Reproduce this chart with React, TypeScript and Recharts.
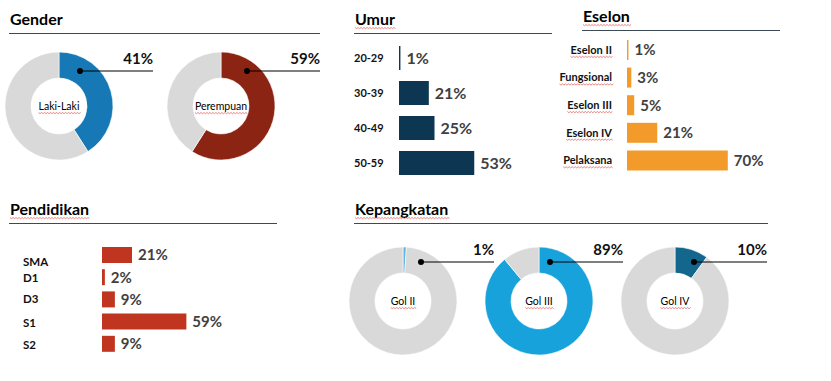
import React from "react";
import {
  PieChart,
  Pie,
  Cell,
  BarChart,
  Bar,
  XAxis,
  YAxis,
  LabelList,
} from "recharts";

const genderCategories = ["Laki-Laki", "Perempuan"];
const genderValues = [41, 59];

const umurCategories = ["20-29", "30-39", "40-49", "50-59"];
const umurValues = [1, 21, 25, 53];

const eselonCategories = ["Eselon II", "Fungsional", "Eselon III", "Eselon IV", "Pelaksana"];
const eselonValues = [1, 3, 5, 21, 70];

const pendidikanCategories = ["SMA", "D1", "D3", "S1", "S2"];
const pendidikanValues = [21, 2, 9, 59, 9];

const golCategories = ["Gol II", "Gol III", "Gol IV"];
const golValues = [1, 89, 10];

const FONT = "Lato, 'Open Sans', sans-serif";
const GREY = "#d9d9d9";
const LABEL = "#404040";
const RULE = "#3c4a57";
const NO_MARGIN = { top: 0, right: 0, bottom: 0, left: 0 };

const toRows = (cats: string[], vals: number[]) =>
  cats.map((name, i) => ({ name, value: vals[i] }));

// spell-check squiggle under some words, like in the original screenshot
let ctx: CanvasRenderingContext2D | null = null;
function textWidth(text: string, size: number, bold: boolean) {
  if (!ctx) ctx = document.createElement("canvas").getContext("2d");
  if (!ctx) return text.length * size * 0.5;
  ctx.font = `${bold ? "bold " : ""}${size}px Lato`;
  return ctx.measureText(text).width;
}

function Squiggle({ x, y, w }: { x: number; y: number; w: number }) {
  let d = `M${x},${y}`;
  for (let i = 0, px = x; px < x + w; i++) {
    px += 1.5;
    d += ` L${px},${y + (i % 2 === 0 ? 1.2 : 0)}`;
  }
  return <path d={d} fill="none" stroke="#e0504a" strokeWidth={0.7} />;
}

function WavyText({ x, y, text, size, bold, anchor = "start", fill = "#000" }: any) {
  const w = textWidth(text, size, bold);
  const x0 = anchor === "end" ? x - w : anchor === "middle" ? x - w / 2 : x;
  return (
    <g>
      <text
        x={x}
        y={y}
        textAnchor={anchor}
        fontFamily={FONT}
        fontWeight={bold ? "bold" : "normal"}
        fontSize={size}
        fill={fill}
      >
        {text}
      </text>
      <Squiggle x={x0} y={y + 2.5} w={w} />
    </g>
  );
}

type DonutProps = {
  name: string;
  value: number;
  color: string;
  left: number;
  top: number;
  dot: [number, number];
  lineLen: number;
};

const CX = 60;
const CY = 70;

function Donut({ name, value, color, left, top, dot, lineLen }: DonutProps) {
  const data = [
    { name, value },
    { name: "rest", value: 100 - value },
  ];
  const marker = (p: any) => {
    if (p.index !== 0) return null;
    const cx = CX;
    const cy = CY;
    const dx = cx + dot[0];
    const dy = cy + dot[1];
    const end = cx + lineLen;
    return (
      <g>
        <line x1={dx} y1={dy} x2={end} y2={dy} stroke="#000" strokeWidth={1.2} />
        <circle cx={dx} cy={dy} r={3} fill="#000" />
        <text
          x={end}
          y={dy - 7}
          textAnchor="end"
          fontFamily={FONT}
          fontWeight="bold"
          fontSize={15}
          fill="#111"
        >
          {`${p.value}%`}
        </text>
        <WavyText x={cx} y={cy + 4} text={name} size={10.5} anchor="middle" />
      </g>
    );
  };
  return (
    <div style={{ position: "absolute", left, top }}>
      <PieChart width={170} height={130} margin={NO_MARGIN}>
        <Pie
          data={data}
          dataKey="value"
          cx={CX}
          cy={CY}
          innerRadius={28}
          outerRadius={54}
          startAngle={90}
          endAngle={-270}
          stroke="#fff"
          strokeWidth={0.6}
          label={marker}
          labelLine={false}
          isAnimationActive={false}
        >
          <Cell fill={color} />
          <Cell fill={GREY} />
        </Pie>
      </PieChart>
    </div>
  );
}

type HBarProps = {
  cats: string[];
  vals: number[];
  color: string;
  left: number;
  top: number;
  height: number;
  axisW: number;
  plotW: number;
  barSize: number;
  tickX: number;
  anchor: "start" | "end";
  wavy?: boolean;
  tickDy?: number[];
  tickSize?: number;
  valueSize?: number;
};

function HBar({
  cats,
  vals,
  color,
  left,
  top,
  height,
  axisW,
  plotW,
  barSize,
  tickX,
  anchor,
  wavy,
  tickDy,
  tickSize = 11,
  valueSize = 15,
}: HBarProps) {
  const data = toRows(cats, vals);
  const tick = (p: any) => {
    const y = p.y + 4 + (tickDy ? tickDy[p.index] ?? 0 : 0);
    if (wavy)
      return <WavyText x={tickX} y={y} text={p.payload.value} size={tickSize} bold anchor={anchor} fill="#111" />;
    return (
      <text
        x={tickX}
        y={y}
        textAnchor={anchor}
        fontFamily={FONT}
        fontWeight="bold"
        fontSize={tickSize}
        fill="#111"
      >
        {p.payload.value}
      </text>
    );
  };
  return (
    <div style={{ position: "absolute", left, top }}>
      <BarChart
        width={axisW + plotW + 60}
        height={height}
        data={data}
        layout="vertical"
        margin={{ top: 0, right: 60, bottom: 0, left: 0 }}
      >
        <XAxis type="number" domain={[0, 100]} hide />
        <YAxis
          type="category"
          dataKey="name"
          width={axisW}
          axisLine={false}
          tickLine={false}
          tick={tick}
          interval={0}
        />
        <Bar dataKey="value" fill={color} barSize={barSize} isAnimationActive={false}>
          <LabelList
            dataKey="value"
            position="right"
            offset={6}
            formatter={(v: any) => `${v}%`}
            fill={LABEL}
            fontFamily={FONT}
            fontWeight="bold"
            fontSize={valueSize}
          />
        </Bar>
      </BarChart>
    </div>
  );
}

function Title({ x, y, text, lineY, lineEnd, wavy }: any) {
  return (
    <g>
      {wavy ? (
        <WavyText x={x} y={y} text={text} size={16} bold />
      ) : (
        <text x={x} y={y} fontFamily={FONT} fontWeight="bold" fontSize={16} fill="#000">
          {text}
        </text>
      )}
      <line x1={x - 1} y1={lineY} x2={lineEnd} y2={lineY} stroke={RULE} strokeWidth={1} />
    </g>
  );
}

export default function App() {
  return (
    <div
      style={{
        position: "absolute",
        left: 0,
        top: 0,
        width: 831,
        height: 381,
        background: "#fff",
        overflow: "hidden",
      }}
    >
      <svg width={831} height={381} style={{ position: "absolute", left: 0, top: 0 }}>
        <Title x={10} y={25} text="Gender" lineY={33.5} lineEnd={320} />
        <Title x={355} y={25} text="Umur" lineY={33.5} lineEnd={552} wavy />
        <Title x={583} y={22} text="Eselon" lineY={30.5} lineEnd={780} wavy />
        <Title x={10} y={215} text="Pendidikan" lineY={223.5} lineEnd={277} wavy />
        <Title x={355} y={215} text="Kepangkatan" lineY={223.5} lineEnd={768} wavy />
      </svg>

      <Donut name={genderCategories[0]} value={genderValues[0]} color="#1679b5" left={-1} top={36} dot={[21, -35]} lineLen={94} />
      <Donut name={genderCategories[1]} value={genderValues[1]} color="#8c2414" left={161} top={36} dot={[26, -35]} lineLen={99} />

      <HBar
        cats={umurCategories}
        vals={umurValues}
        color="#0c3652"
        left={340}
        top={40}
        height={140}
        axisW={59}
        plotW={142}
        barSize={24}
        tickX={14}
        anchor="start"
        valueSize={16}
      />

      <HBar
        cats={eselonCategories}
        vals={eselonValues}
        color="#f39b2a"
        left={540}
        top={36}
        height={138}
        axisW={87}
        plotW={144}
        barSize={20}
        tickX={72}
        anchor="end"
        tickSize={11}
        wavy
      />

      <HBar
        cats={pendidikanCategories}
        vals={pendidikanValues}
        color="#c0351f"
        left={0}
        top={244}
        height={111}
        axisW={102}
        plotW={143}
        barSize={16}
        tickX={23}
        anchor="start"
        tickSize={11.5}
        tickDy={[7, 1, -1, 1, 1]}
      />

      <Donut name={golCategories[0]} value={golValues[0]} color="#5db5e2" left={343} top={231} dot={[18, -39]} lineLen={91} />
      <Donut name={golCategories[1]} value={golValues[1]} color="#18a2db" left={479} top={231} dot={[11, -39]} lineLen={84} />
      <Donut name={golCategories[2]} value={golValues[2]} color="#13678d" left={615} top={231} dot={[19, -39]} lineLen={92} />
    </div>
  );
}
